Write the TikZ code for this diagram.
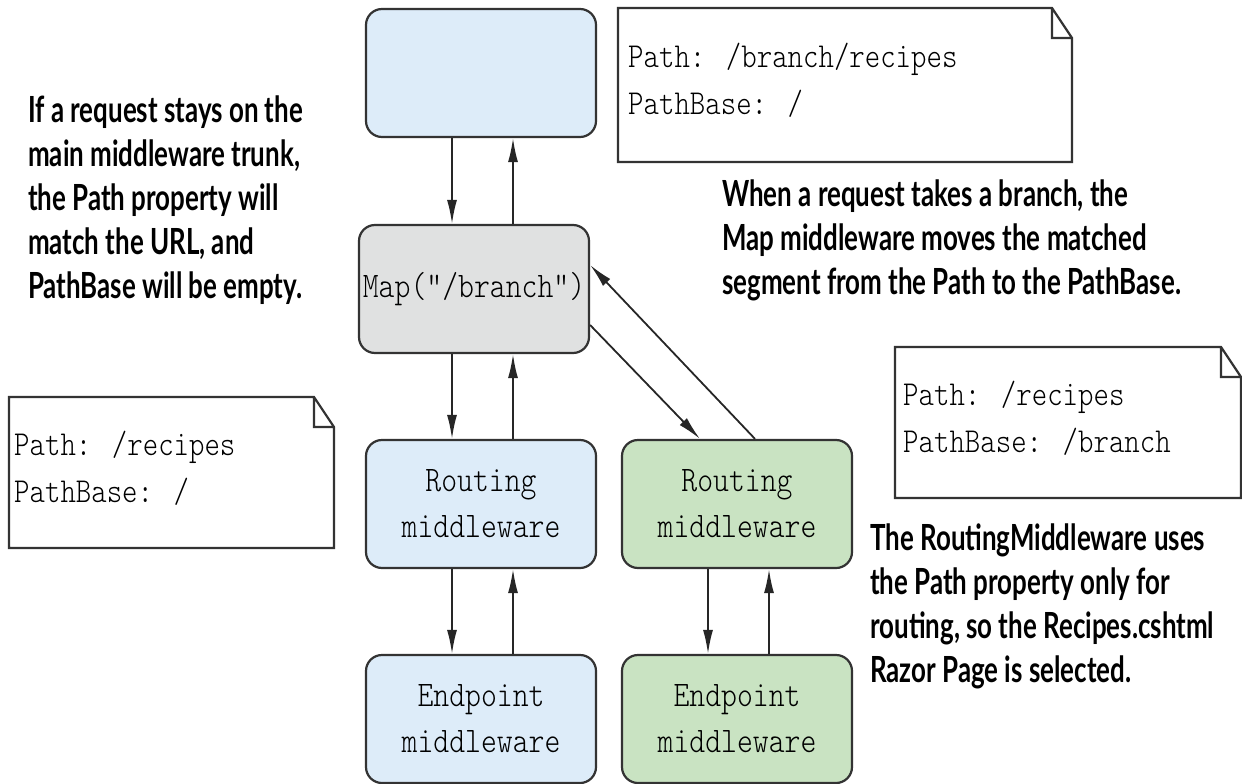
\documentclass[tikz,border=0pt]{standalone}
\usepackage{fontspec}
\usepackage{tikz}
\usetikzlibrary{arrows.meta,positioning,calc}
\newfontfamily\codefont{lmmonolt10-regular}[Extension=.otf,Ligatures=TeXOff,FakeStretch=0.84]
\newfontfamily\remarkfont{Lato}[FakeStretch=0.72]
\definecolor{trunkblue}{HTML}{DDECF9}
\definecolor{mapgray}{HTML}{E0E1E1}
\definecolor{branchgreen}{HTML}{C9E3C2}
\definecolor{edgegray}{HTML}{333333}

\begin{document}
\begin{tikzpicture}[x=1pt, y=-1pt,
        mw/.style={draw=edgegray, line width=2.2pt, rounded corners=16pt,
            minimum width=230pt, minimum height=128pt, inner sep=0pt,
            align=center, font=\codefont\fontsize{36}{46}\selectfont},
        flow/.style={-{Latex[length=24pt,width=10pt]}, line width=1.8pt, draw=black!85},
        memo/.style={anchor=west, align=left, inner sep=0pt,
            font=\codefont\fontsize{35}{47}\selectfont},
        memobox/.style={draw=edgegray, fill=white, line width=2.2pt},
        remark/.style={anchor=west, align=left, inner sep=0pt,
            font=\remarkfont\bfseries\fontsize{36}{44}\selectfont}]
    \useasboundingbox (0,0) rectangle (1242,784);

    % middleware pipeline
    \node[mw, fill=trunkblue] (top) at (481,73) {};
    \node[mw, fill=mapgray] (map) at (474,289) {Map("/branch")};
    \node[mw, fill=trunkblue] (rtrunk) at (481,504) {Routing\\middleware};
    \node[mw, fill=branchgreen] (rbranch) at (737,504) {Routing\\middleware};
    \node[mw, fill=trunkblue] (etrunk) at (481,719) {Endpoint\\middleware};
    \node[mw, fill=branchgreen] (ebranch) at (737,719) {Endpoint\\middleware};

    \foreach \up/\down/\col in {top/map/top, map/rtrunk/rtrunk, rtrunk/etrunk/rtrunk, rbranch/ebranch/rbranch} {
        \draw[flow] ($(\col.center |- \up.south)+(-29,0)$) -- ($(\col.center |- \down.north)+(-29,0)$);
        \draw[flow] ($(\col.center |- \down.north)+(32,0)$) -- ($(\col.center |- \up.south)+(32,0)$);
    }
    \draw[flow] ($(map.east)+(0,36)$) -- ($(rbranch.north)+(-37,0)$);
    \draw[flow] ($(rbranch.north)+(18,0)$) -- ($(map.east)+(0,-24)$);

    % notes with folded corner
    \foreach \xa/\ya/\xb/\yb in {618/8/1072/162, 9/397/334/548, 895/347/1241/498}
        \draw[memobox] (\xa,\ya) -- (\xb-20,\ya) -- (\xb,\ya+30) -- (\xb,\yb) -- (\xa,\yb) -- cycle
            (\xb-20,\ya) -- (\xb-20,\ya+30) -- (\xb,\ya+30);
    \node[memo] (m1) at (628,80) {Path: /branch/recipes\\PathBase: /};
    \node[memo] (m2) at (14,468) {Path: /recipes\\PathBase: /};
    \node[memo] (m3) at (903,418) {Path: /recipes\\PathBase: /branch};

    % remarks
    \node[remark] (r1) at (28,200) {If a request stays on the\\main middleware trunk,\\the Path property will\\match the URL, and\\PathBase will be empty.};
    \node[remark] (r2) at (722,240) {When a request takes a branch, the\\Map middleware moves the matched\\segment from the Path to the PathBase.};
    \node[remark] (r3) at (870,606) {The RoutingMiddleware uses\\the Path property only for\\routing, so the Recipes.cshtml\\Razor Page is selected.};
\end{tikzpicture}
\end{document}
